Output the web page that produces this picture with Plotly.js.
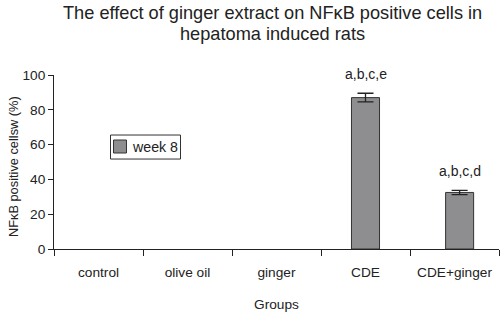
<!DOCTYPE html>
<html>
<head>
<meta charset="utf-8">
<script src="https://cdn.plot.ly/plotly-3.0.1.min.js"></script>
<style>html,body{margin:0;padding:0;background:#fff;}#chart{width:503px;height:315px;}</style>
</head>
<body>
<div id="chart"></div>
<script>
const groups = ["control", "olive oil", "ginger", "CDE", "CDE+ginger"];
const week8 = [0, 0, 0, 87, 32.5];
const week8Err = [0, 0, 0, 2.5, 1.2];
const sigLabels = ["", "", "", "a,b,c,e", "a,b,c,d"];
const seriesName = "week 8";
const titleLines = ["The effect of ginger extract on NF\u03baB positive cells in", "hepatoma induced rats"];
const xTitle = "Groups";
const yTitle = "NF\u03baB positive cellsw (%)";

const FONT = "Liberation Sans, Arial, Helvetica, sans-serif";
const INK = "#222222";
const BAR = "#8e8e90";
const EDGE = "#333333";

// only groups with a visible (non-zero) bar are drawn
const shown = week8.map((v, i) => i).filter(i => week8[i] > 0);
const barOffsets = groups.map((g, i) => i === 4 ? -0.1 : -0.1575);

const trace = {
  type: "bar",
  x: shown.map(i => groups[i]),
  y: shown.map(i => week8[i]),
  name: seriesName,
  width: 0.315,
  offset: shown.map(i => barOffsets[i]),
  marker: {color: BAR, line: {color: EDGE, width: 1}},
  error_y: {type: "data", array: shown.map(i => week8Err[i]), visible: true, color: INK, thickness: 1.3, width: 8},
  showlegend: false,
  hoverinfo: "skip"
};

const annotations = groups.map((g, i) => ({
  x: g, xref: "x",
  y: week8[i] + week8Err[i], yref: "y",
  text: sigLabels[i],
  showarrow: false,
  xanchor: "center", yanchor: "bottom",
  xshift: i === 4 ? 5 : 0,
  yshift: 9,
  font: {family: FONT, size: 14, color: INK}
})).filter(a => a.text);

// Title (two lines, spacing as in the reference)
annotations.push(
  {text: titleLines[0], xref: "paper", yref: "paper", x: 0.492, y: 1.3578, xanchor: "center", yanchor: "middle",
   showarrow: false, font: {family: FONT, size: 18.2, color: INK}},
  {text: titleLines[1], xref: "paper", yref: "paper", x: 0.492, y: 1.2335, xanchor: "center", yanchor: "middle",
   showarrow: false, font: {family: FONT, size: 18.2, color: INK}}
);

// Y axis title
annotations.push({
  text: yTitle, xref: "paper", yref: "paper", x: 0, y: 0.471, xshift: -41,
  xanchor: "center", yanchor: "middle", textangle: -90, showarrow: false,
  font: {family: FONT, size: 12.8, color: INK}
});

// Legend entry (box with swatch and label)
annotations.push({
  text: seriesName, xref: "paper", yref: "paper", x: 0.171, y: 0.588, xanchor: "left", yanchor: "middle",
  showarrow: false, font: {family: FONT, size: 14.2, color: INK}
});
const shapes = [
  {type: "rect", xref: "paper", yref: "paper", x0: 0.127, x1: 0.2843, y0: 0.517, y1: 0.655,
   line: {color: EDGE, width: 1}, fillcolor: "#ffffff", layer: "below"},
  {type: "rect", xref: "paper", yref: "paper", x0: 0.1337, x1: 0.1629, y0: 0.5517, y1: 0.6264,
   line: {color: EDGE, width: 1}, fillcolor: BAR}
];

const layout = {
  width: 503, height: 315,
  paper_bgcolor: "#ffffff", plot_bgcolor: "#ffffff",
  margin: {l: 54, r: 4, t: 75, b: 66, pad: 0},
  font: {family: FONT, size: 14, color: INK},
  showlegend: false,
  xaxis: {
    type: "category",
    categoryorder: "array", categoryarray: groups,
    tickvals: groups, ticktext: groups,
    range: [-0.5, 4.5],
    showline: true, linecolor: INK, linewidth: 1,
    ticks: "outside", tickson: "boundaries", ticklen: 6, tickcolor: INK, tickwidth: 1,
    ticklabelstandoff: 11,
    showgrid: false, zeroline: false,
    tickfont: {family: FONT, size: 13.7, color: INK},
    title: {text: xTitle, font: {family: FONT, size: 13.7, color: INK}, standoff: 19}
  },
  yaxis: {
    range: [0, 100],
    tickvals: [0, 20, 40, 60, 80, 100],
    showline: true, linecolor: INK, linewidth: 1,
    ticks: "outside", ticklen: 5, tickcolor: INK, tickwidth: 1,
    showgrid: false, zeroline: false,
    tickfont: {family: FONT, size: 13.7, color: INK}
  },
  annotations: annotations,
  shapes: shapes
};

Plotly.newPlot("chart", [trace], layout, {displayModeBar: false, staticPlot: true});
</script>
</body>
</html>
